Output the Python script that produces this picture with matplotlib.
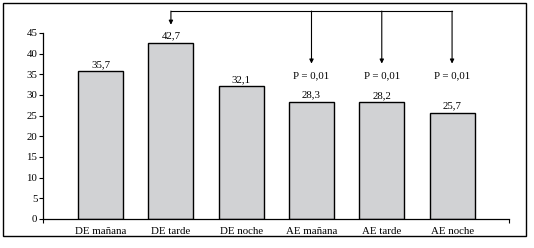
import matplotlib
matplotlib.use("Agg")
import matplotlib.pyplot as plt
from matplotlib.patches import Rectangle

categories = ["DE mañana", "DE tarde", "DE noche", "AE mañana", "AE tarde", "AE noche"]
values = [35.7, 42.7, 32.1, 28.3, 28.2, 25.7]
value_labels = ["35,7", "42,7", "32,1", "28,3", "28,2", "25,7"]
yticks = [0, 5, 10, 15, 20, 25, 30, 35, 40, 45]
bracket_from = 1
bracket_to = [3, 4, 5]
p_label = "P = 0,01"

plt.rcParams['font.family'] = ['Liberation Serif', 'DejaVu Serif']
fs = 7.8

fig = plt.figure(figsize=(5.34, 2.48), dpi=100)
fig.patches.append(Rectangle((3/534, 12/248), (526-3)/534, (245-12)/248,
                             transform=fig.transFigure, fill=False,
                             edgecolor='black', linewidth=1.0))
ax = fig.add_axes([43/534, 29/248, (509-43)/534, (239.8-29)/248])

x = list(range(len(categories)))
ax.bar(x, values, width=0.64, color='#d1d2d4', edgecolor='black', linewidth=1.0, zorder=2)

ax.set_xlim(-0.82, 5.81)
ax.set_ylim(0, 51)
for s in ['top', 'right']:
    ax.spines[s].set_visible(False)
ax.spines['left'].set_bounds(0, 45)
ax.spines['left'].set_linewidth(0.9)
ax.spines['bottom'].set_linewidth(0.9)
ax.set_yticks(yticks)
ax.set_yticklabels([str(t) for t in yticks], fontsize=fs)
ax.tick_params(axis='y', length=3, width=0.8, pad=1)
ax.set_xticks(x)
ax.set_xticklabels(categories, fontsize=fs)
ax.tick_params(axis='x', length=0, pad=6)
ax.set_xticks([-0.82, 5.81], minor=True)
ax.tick_params(axis='x', which='minor', length=3, width=0.8)

for xi, v, lab in zip(x, values, value_labels):
    ax.text(xi, v + 0.6, lab, ha='center', va='bottom', fontsize=fs)

top = 50.3
arrow_kw = dict(arrowstyle='-|>', color='black', lw=0.8, mutation_scale=6,
                shrinkA=0, shrinkB=0)
ax.plot([bracket_from, bracket_to[-1]], [top, top], color='black', lw=0.8, clip_on=False)
ax.annotate('', xy=(bracket_from, 47.0), xytext=(bracket_from, top),
            arrowprops=arrow_kw, annotation_clip=False)
for b in bracket_to:
    ax.annotate('', xy=(b, 37.6), xytext=(b, top), arrowprops=arrow_kw,
                annotation_clip=False)
    ax.text(b, 33.6, p_label, ha='center', va='bottom', fontsize=fs)

fig.savefig("out.png", dpi=100)
